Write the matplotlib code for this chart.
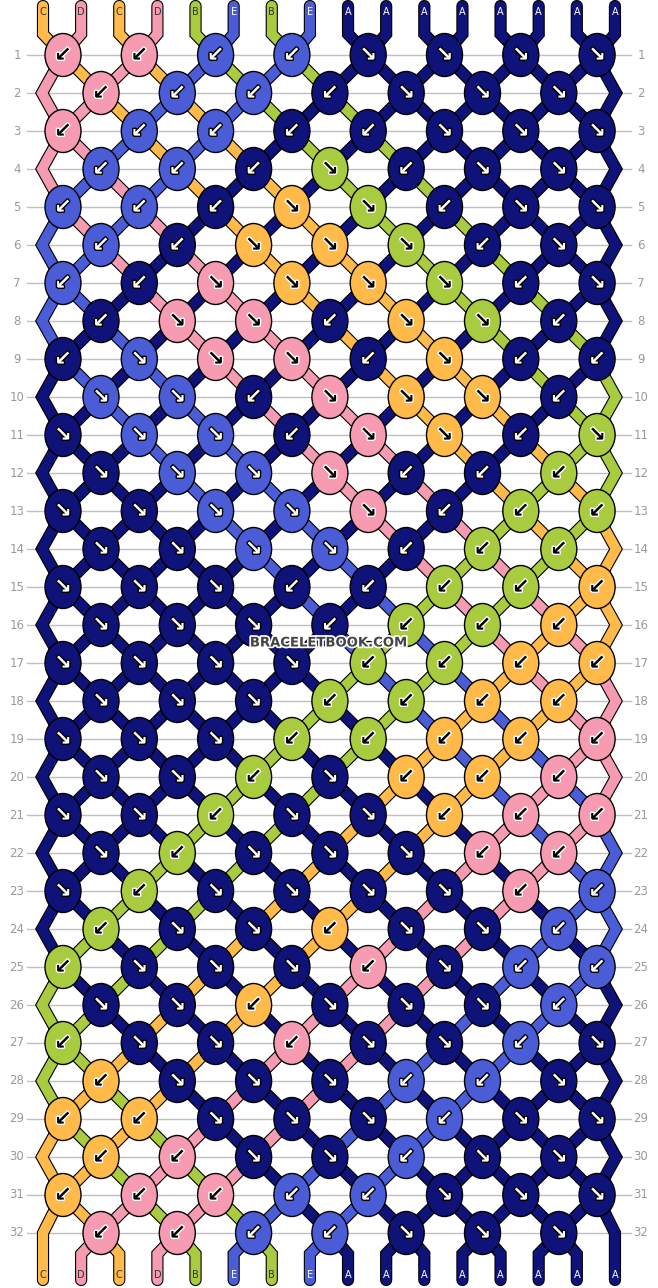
import matplotlib
matplotlib.use("Agg")
import matplotlib.pyplot as plt
from matplotlib.patches import Ellipse
import matplotlib.patheffects as pe

string_labels = list("CDCDBEBEAAAAAAAA")
colors = {"A": "#0F1278", "B": "#A9CB3F", "C": "#FFBA4A", "D": "#F69BB1", "E": "#4A5DD7"}
label_text_color = {"A": "white", "B": "#333333", "C": "#333333", "D": "#333333", "E": "white"}
arrow_dark = {"A": True, "E": True, "B": False, "C": False, "D": False}

directions = [
    "LLLLRRRR", "LLLLRRR", "LLLLLRRR", "LLLRLRR", "LLLRRLRR", "LLRRRLR",
    "LLRRRRLR", "LRRLRRL", "LRRRLRLL", "RRLRRRL", "RRRLRRLR", "RRRRLLL",
    "RRRRRLLL", "RRRRLLL", "RRRLLLLL", "RRRLLLL", "RRRRLLLL", "RRRLLLL",
    "RRRLLLLL", "RRLRLLL", "RRLRRLLL", "RLRRRLL", "RLRRRRLL", "LRRLRRL",
    "LRRRLRLL", "RRLRRRL", "LRRLRRLR", "LRRRLLR", "LLRRRLRR", "LLRRLRR",
    "LLLLLRRR", "LLLLRRR",
]

W, H = 658, 1288
fig = plt.figure(figsize=(W / 100, H / 100), dpi=100)
ax = fig.add_axes([0, 0, 1, 1])
ax.set_xlim(0, W)
ax.set_ylim(H, 0)
ax.axis("off")

nrows = len(directions)
y0, dy = 55, 38.0
x_odd0, x_even0, dx = 63, 101, 76.3
xl0, dxl = 43, 38.13
edge_l, edge_r = 42, 616
edge_in_l, edge_in_r = 52, 606

def row_y(r):
    return y0 + r * dy

for r in range(nrows):
    y = row_y(r)
    ax.plot([27, 631], [y, y], color="#C0C0C0", lw=1.0, zorder=0)
    ax.text(17, y, str(r + 1), color="#999999", fontsize=8.5, ha="center", va="center")
    ax.text(641, y, str(r + 1), color="#999999", fontsize=8.5, ha="center", va="center")

n = len(string_labels)
cur = list(range(n))
paths = {s: [(xl0 + dxl * s, 6), (xl0 + dxl * s, 34)] for s in range(n)}
knots = []
for r, row in enumerate(directions):
    y = row_y(r)
    last = r == nrows - 1
    start = 0 if r % 2 == 0 else 1
    xs0 = x_odd0 if r % 2 == 0 else x_even0
    used = set()
    for k, d in enumerate(row):
        p = start + 2 * k
        a, b = cur[p], cur[p + 1]
        x = xs0 + dx * k
        c = string_labels[a] if d == "R" else string_labels[b]
        knots.append((x, y, c, d))
        paths[a].append((x, y))
        paths[b].append((x, y))
        cur[p], cur[p + 1] = b, a
        used.update([p, p + 1])
    for p in range(n):
        if p not in used:
            s = cur[p]
            if p == 0:
                pts = [(edge_in_l, y - 18), (xl0, y)] if last else \
                      [(edge_in_l, y - 18), (edge_l, y), (edge_in_l, y + 18)]
            else:
                xe = xl0 + dxl * (n - 1)
                pts = [(edge_in_r, y - 18), (xe, y)] if last else \
                      [(edge_in_r, y - 18), (edge_r, y), (edge_in_r, y + 18)]
            paths[s].extend(pts)
for p, s in enumerate(cur):
    paths[s].append((xl0 + dxl * p, 1254))
    paths[s].append((xl0 + dxl * p, 1280))

for s in range(n):
    xs = [q[0] for q in paths[s]]
    ys = [q[1] for q in paths[s]]
    ax.plot(xs, ys, color=colors[string_labels[s]], lw=7.2, solid_capstyle="round",
            solid_joinstyle="miter", zorder=2,
            path_effects=[pe.Stroke(linewidth=8.8, foreground="black"), pe.Normal()])

for p in range(n):
    lab = string_labels[p]
    ax.text(xl0 + dxl * p, 12, lab, fontsize=7, ha="center", va="center",
            color=label_text_color[lab], zorder=3)
for p, s in enumerate(cur):
    lab = string_labels[s]
    ax.text(xl0 + dxl * p, 1275, lab, fontsize=7, ha="center", va="center",
            color=label_text_color[lab], zorder=3)

for x, y, c, d in knots:
    ax.add_patch(Ellipse((x, y), 36, 43, facecolor=colors[c], edgecolor="black", lw=1.0, zorder=4))
    ac = "white" if arrow_dark[c] else "black"
    oc = "black" if arrow_dark[c] else "white"
    ax.text(x, y, "↘" if d == "R" else "↙", fontsize=15, fontweight="bold", color=ac,
            ha="center", va="center", zorder=5,
            path_effects=[pe.Stroke(linewidth=2, foreground=oc), pe.Normal()])

ax.text(329, 643, "BRACELETBOOK.COM", fontsize=9.5, fontweight="bold", color="#444444",
        ha="center", va="center", zorder=6,
        path_effects=[pe.Stroke(linewidth=2.5, foreground="white"), pe.Normal()])

fig.savefig("out.png", dpi=100)
